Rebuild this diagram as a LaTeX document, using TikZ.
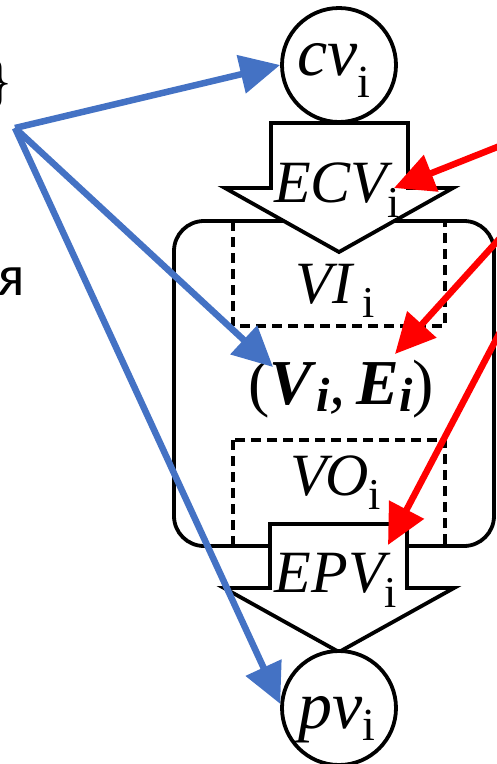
\documentclass[tikz,border=0pt]{standalone}
\usepackage{fontspec}
\setmainfont{Liberation Serif}
\newfontfamily\cyrfont{Carlito}
\usetikzlibrary{arrows.meta}
\definecolor{blueC}{HTML}{4472C4}
\definecolor{redC}{HTML}{FF0000}
\newcommand{\lowi}[2][44]{\raisebox{-#2}{\fontsize{#1}{#1}\selectfont\upshape i}}
\newcommand{\lowbi}[1]{\raisebox{-#1}{\fontsize{48}{48}\selectfont\bfseries\itshape i}}
\begin{document}
\begin{tikzpicture}[x=1pt,y=-1pt,
  outl/.style={draw=black,line width=3.8pt,line join=miter},
  dsh/.style={draw=black,line width=3.2pt,dash pattern=on 10pt off 6pt},
  bluearr/.style={draw=blueC,line width=6.5pt,-{Triangle[length=40pt,width=38pt]}},
  redarr/.style={draw=redC,line width=6.5pt,-{Triangle[length=40pt,width=38pt]}},
  lbl/.style={font=\fontsize{60}{60}\selectfont\itshape,inner sep=0pt,anchor=base}
]
\useasboundingbox (0,0) rectangle (497,764);

% dashed inner boxes
\draw[dsh] (233,221) rectangle (445,326);
\draw[dsh] (233,440) rectangle (445,546);
% rounded outer box
\node[outl,rounded corners=30pt,minimum width=320pt,minimum height=325pt,inner sep=0pt] (box) at (334,383.5) {};

% block arrows
\draw[outl,fill=white] (271,123) -- (408,123) -- (408,188) -- (453,188) -- (339,252) -- (225,188) -- (271,188) -- cycle;
\draw[outl,fill=white] (270,524) -- (407,524) -- (407,588) -- (454,588) -- (339,652) -- (224,588) -- (270,588) -- cycle;

% circles
\node[circle,outl,fill=white,minimum size=114pt,inner sep=0pt] (cv) at (339,65) {};
\node[circle,outl,fill=white,minimum size=114pt,inner sep=0pt] (pv) at (339,708) {};

% labels
\node[lbl,font=\fontsize{68}{68}\selectfont\itshape] (cvt) at (334,75) {cv\lowi[46]{22pt}};
\node[lbl] (ecvt) at (337,202) {ECV\lowi{15pt}};
\node[lbl] (vit) at (335,303) {VI\,\lowi{14pt}};
\node[lbl,font=\fontsize{64}{64}\selectfont] (vet) at (341,404) {(\textbf{\textit{V}}\lowbi{7pt}\textit{,}\,\textbf{\textit{E}}\lowbi{7pt})};
\node[lbl] (vot) at (336,495) {VO\lowi{14pt}};
\node[lbl] (epvt) at (336,592) {EPV\lowi{15pt}};
\node[lbl,font=\fontsize{68}{68}\selectfont\itshape] (pvt) at (337,728) {pv\lowi[46]{12pt}};

% cropped left texts
\node[anchor=base east,inner sep=0pt,font=\fontsize{58}{58}\selectfont] (brace) at (14,100) {\}};
\node[anchor=base east,inner sep=0pt,font=\cyrfont\fontsize{58}{58}\selectfont] (ya) at (25,295) {я};

% connector end coordinates
\coordinate (src) at (15,128);
\coordinate (tipVE) at (273,367);
\coordinate (r1) at (530,134);
\coordinate (r2) at (530,205);
\coordinate (r3) at (530,275);
\coordinate (tipECV) at (394,188);
\coordinate (tipVE2) at (395,354);
\coordinate (tipEPV) at (388,545);

% blue arrows
\draw[bluearr] (src) -- (cv.west);
\draw[bluearr] (src) -- (tipVE);
\draw[bluearr] (src) -- (pv.176);

% red arrows
\draw[redarr] (r1) -- (tipECV);
\draw[redarr] (r2) -- (tipVE2);
\draw[redarr] (r3) -- (tipEPV);
\end{tikzpicture}
\end{document}
